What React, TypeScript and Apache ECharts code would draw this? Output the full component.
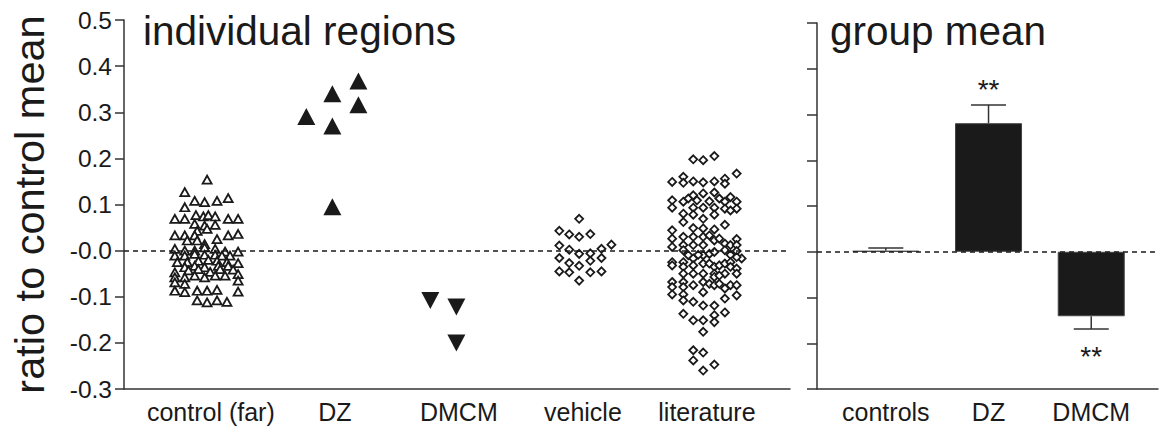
import React, { useEffect, useRef } from "react";
import * as echarts from "echarts";

const FONT = "'Liberation Sans', Arial, Helvetica, sans-serif";
const INK = "#1a1a1a";
const AXIS = "#333333";

// Left panel categories (x index 0..4)
const leftCats = ["control (far)", "DZ", "DMCM", "vehicle", "literature"];
// Right panel categories
const groupCats = ["controls", "DZ", "DMCM"];
const groupMeans = [0.002, 0.281, -0.141];
const groupSem = [0.006, 0.04, 0.028];
const groupStars = ["", "**", "**"];

// y tick labels
const yTickMin = -0.3;
const yTickMax = 0.5;
const yTickStep = 0.1;

// points: [jitter offset from category centre (category units), ratio]
const controlFar: [number, number][] = [
  [-0.03, 0.154], [-0.21, 0.127], [-0.13, 0.108], [-0.05, 0.105], [0.05, 0.108], [0.14, 0.114],
  [-0.21, 0.094], [-0.12, 0.077], [-0.06, 0.074], [-0.02, 0.077], [0.035, 0.074], [-0.29, 0.069],
  [-0.21, 0.069], [0.14, 0.069], [0.22, 0.069], [-0.13, 0.058], [-0.05, 0.054], [0.035, 0.056],
  [-0.11, 0.043], [-0.03, 0.047], [-0.29, 0.033], [-0.21, 0.033], [-0.13, 0.033], [0.14, 0.033],
  [0.22, 0.036], [-0.19, 0.022], [-0.11, 0.022], [0.05, 0.025], [-0.05, 0.014], [-0.29, 0.004],
  [-0.21, 0.0], [-0.13, 0.0], [-0.05, 0.007], [0.035, 0.004], [0.115, -0.002], [0.22, -0.002],
  [-0.29, -0.011], [-0.21, -0.011], [-0.13, -0.007], [-0.05, -0.009], [0.035, -0.009], [0.09, -0.011],
  [0.155, -0.011], [-0.27, -0.025], [-0.19, -0.025], [-0.1, -0.022], [-0.02, -0.02], [0.05, -0.022],
  [0.13, -0.025], [0.22, -0.027], [-0.21, -0.036], [-0.13, -0.033], [-0.05, -0.036], [0.06, -0.033],
  [0.14, -0.033], [-0.29, -0.047], [-0.18, -0.043], [-0.1, -0.04], [-0.005, -0.046], [0.075, -0.04],
  [0.18, -0.041], [0.22, -0.051], [-0.29, -0.058], [-0.21, -0.058], [-0.13, -0.054], [-0.05, -0.058],
  [0.035, -0.054], [0.115, -0.054], [-0.29, -0.069], [-0.21, -0.072], [0.22, -0.065], [-0.29, -0.087],
  [-0.21, -0.09], [-0.11, -0.087], [-0.03, -0.087], [0.05, -0.085], [0.22, -0.089], [-0.11, -0.108],
  [-0.03, -0.112], [0.05, -0.108], [0.13, -0.111],
];

const dzPoints: [number, number][] = [
  [0.19, 0.368], [-0.02, 0.34], [0.19, 0.316], [-0.23, 0.291], [-0.02, 0.27], [-0.02, 0.095],
];

const dmcmPoints: [number, number][] = [
  [-0.23, -0.108], [-0.02, -0.122], [-0.02, -0.2],
];

const vehiclePoints: [number, number][] = [
  [-0.03, 0.069], [-0.19, 0.043], [-0.11, 0.035], [-0.03, 0.03], [0.06, 0.036], [-0.19, 0.011],
  [-0.11, 0.002], [-0.03, -0.007], [0.06, -0.006], [0.15, 0.004], [0.23, 0.013], [-0.19, -0.016],
  [-0.11, -0.027], [-0.03, -0.033], [0.06, -0.022], [0.15, -0.016], [-0.11, -0.047], [-0.19, -0.045],
  [0.06, -0.047], [0.15, -0.045], [-0.03, -0.065],
];

const literaturePoints: [number, number][] = [
  [-0.11, 0.198], [-0.03, 0.196], [0.06, 0.205], [0.24, 0.167], [-0.28, 0.149], [-0.19, 0.16],
  [-0.19, 0.147], [-0.11, 0.15], [-0.03, 0.148], [0.06, 0.15], [0.145, 0.156], [0.145, 0.145],
  [-0.28, 0.109], [-0.28, 0.093], [-0.19, 0.106], [-0.15, 0.113], [-0.11, 0.12], [-0.03, 0.124],
  [-0.08, 0.109], [0.02, 0.107], [0.06, 0.126], [0.1, 0.113], [0.145, 0.106], [0.19, 0.116],
  [0.24, 0.106], [0.24, 0.091], [-0.11, 0.093], [-0.03, 0.093], [0.06, 0.093], [0.145, 0.091],
  [-0.19, 0.08], [-0.11, 0.078], [-0.03, 0.069], [0.06, 0.078], [0.19, 0.087], [-0.19, 0.062],
  [-0.11, 0.049], [-0.03, 0.048], [0.06, 0.046], [0.145, 0.056], [-0.28, 0.044], [-0.28, 0.026],
  [-0.28, 0.008], [-0.19, 0.03], [-0.19, 0.012], [-0.11, 0.03], [-0.11, 0.012], [-0.03, 0.03],
  [-0.03, 0.012], [0.02, 0.033], [0.06, 0.022], [0.1, 0.026], [0.145, 0.015], [0.19, 0.012],
  [0.24, 0.025], [0.24, 0.012], [0.28, -0.017], [-0.19, 0.001], [-0.15, -0.01], [-0.11, -0.017],
  [-0.03, -0.01], [-0.07, -0.009], [0.02, -0.007], [0.06, -0.003], [0.145, 0.001], [0.19, -0.009],
  [0.24, -0.001], [0.24, -0.014], [-0.28, -0.025], [-0.28, -0.032], [-0.19, -0.025], [-0.19, -0.035],
  [-0.11, -0.032], [-0.03, -0.028], [-0.03, -0.05], [-0.11, -0.05], [-0.19, -0.05], [0.02, -0.028],
  [0.06, -0.035], [0.1, -0.032], [0.145, -0.028], [0.19, -0.025], [0.19, -0.035], [0.24, -0.039],
  [0.24, -0.05], [0.145, -0.05], [0.06, -0.05], [-0.28, -0.068], [-0.28, -0.079], [-0.28, -0.095],
  [-0.19, -0.068], [-0.19, -0.079], [-0.19, -0.095], [-0.11, -0.075], [-0.03, -0.068], [-0.03, -0.09],
  [0.02, -0.072], [0.06, -0.075], [0.1, -0.072], [0.145, -0.082], [0.19, -0.075], [0.24, -0.075],
  [0.24, -0.097], [0.06, -0.057], [0.1, -0.054], [-0.19, -0.108], [-0.11, -0.111], [-0.03, -0.119],
  [0.06, -0.119], [0.145, -0.104], [-0.19, -0.137], [-0.11, -0.151], [-0.03, -0.151], [0.06, -0.14],
  [0.06, -0.155], [0.145, -0.134], [-0.03, -0.176], [-0.11, -0.216], [-0.03, -0.221], [-0.11, -0.238],
  [-0.03, -0.26], [0.06, -0.247],
];

const place = (pts: [number, number][], cat: number) => pts.map(([o, v]) => [cat + o, v]);

const yFmt = (v: number) => (Math.abs(v) < 1e-9 ? "-0.0" : v.toFixed(1));

const axisLine = { show: true, onZero: false, lineStyle: { color: AXIS, width: 1.5 } };

const zeroLine = {
  silent: true,
  symbol: ["none", "none"],
  label: { show: false },
  lineStyle: { type: [5, 4], color: INK, width: 1.5 },
  data: [{ yAxis: 0 }],
};

export default function App() {
  const ref = useRef<HTMLDivElement>(null);
  useEffect(() => {
    document.body.style.margin = "0";
    const chart = echarts.init(ref.current!, null, { renderer: "svg" });
    const openStyle = { color: "#ffffff", borderColor: INK, borderWidth: 1.8, opacity: 1 };
    const filledStyle = { color: INK, opacity: 1 };
    const titleStyle = { fontSize: 40.5, fontWeight: "normal", color: INK, fontFamily: FONT };
    const option: any = {
      animation: false,
      backgroundColor: "#ffffff",
      textStyle: { fontFamily: FONT },
      title: [
        { text: "individual regions", left: 143, top: 10, padding: 0, textStyle: titleStyle },
        { text: "group mean", left: 830, top: 10, padding: 0, textStyle: titleStyle },
      ],
      grid: [
        { left: 122, right: 369, top: 20, bottom: 45 },
        { left: 817, right: 1, top: 23, bottom: 45 },
      ],
      xAxis: [
        {
          type: "value",
          gridIndex: 0,
          min: -0.7,
          max: 4.67,
          axisLine,
          axisTick: { show: false },
          splitLine: { show: false },
          axisLabel: {
            customValues: [0, 1, 2, 3, 4],
            formatter: (v: number) => leftCats[Math.round(v)] ?? "",
            fontSize: 25,
            color: INK,
            margin: 10,
            fontFamily: FONT,
          },
        },
        {
          type: "value",
          gridIndex: 1,
          min: -0.67,
          max: 2.65,
          axisLine,
          axisTick: { show: false },
          splitLine: { show: false },
          axisLabel: {
            customValues: [0, 1, 2],
            formatter: (v: number) => groupCats[Math.round(v)] ?? "",
            fontSize: 25,
            color: INK,
            margin: 10,
            fontFamily: FONT,
          },
        },
      ],
      yAxis: [
        {
          type: "value",
          gridIndex: 0,
          min: yTickMin,
          max: yTickMax,
          interval: yTickStep,
          axisLine,
          axisTick: { show: true, length: 9, lineStyle: { color: AXIS, width: 1.5 } },
          splitLine: { show: false },
          axisLabel: { formatter: yFmt, fontSize: 24.5, color: INK, margin: 12, fontFamily: FONT },
          name: "ratio to control mean",
          nameLocation: "middle",
          nameGap: 74,
          nameTextStyle: { fontSize: 41.5, color: INK, fontFamily: FONT },
        },
        {
          type: "value",
          gridIndex: 1,
          min: yTickMin,
          max: yTickMax,
          interval: yTickStep,
          axisLine,
          axisTick: { show: true, length: 10, lineStyle: { color: AXIS, width: 1.5 } },
          splitLine: { show: false },
          axisLabel: { show: false },
        },
      ],
      series: [
        {
          type: "scatter",
          xAxisIndex: 0,
          yAxisIndex: 0,
          symbol: "triangle",
          symbolSize: [9, 8],
          itemStyle: openStyle,
          data: place(controlFar, 0),
          markLine: zeroLine,
        },
        {
          type: "scatter",
          xAxisIndex: 0,
          yAxisIndex: 0,
          symbol: "triangle",
          symbolSize: [18, 17],
          itemStyle: filledStyle,
          data: place(dzPoints, 1),
        },
        {
          type: "scatter",
          xAxisIndex: 0,
          yAxisIndex: 0,
          symbol: "triangle",
          symbolRotate: 180,
          symbolSize: [18, 17],
          itemStyle: filledStyle,
          data: place(dmcmPoints, 2),
        },
        {
          type: "scatter",
          xAxisIndex: 0,
          yAxisIndex: 0,
          symbol: "diamond",
          symbolSize: 8,
          itemStyle: openStyle,
          data: place(vehiclePoints, 3),
        },
        {
          type: "scatter",
          xAxisIndex: 0,
          yAxisIndex: 0,
          symbol: "diamond",
          symbolSize: 8,
          itemStyle: openStyle,
          data: place(literaturePoints, 4),
        },
        {
          type: "bar",
          xAxisIndex: 1,
          yAxisIndex: 1,
          barWidth: 67,
          itemStyle: { color: INK, borderColor: "#444", borderWidth: 1 },
          data: groupMeans.map((m, i) => [i, m]),
          markLine: zeroLine,
        },
        {
          type: "custom",
          xAxisIndex: 1,
          yAxisIndex: 1,
          data: groupMeans.map((m, i) => [i, m, groupSem[i]]),
          renderItem: (params: any, api: any) => {
            const x = api.value(0);
            const m = api.value(1);
            const s = api.value(2);
            const dir = m >= 0 ? 1 : -1;
            const p0 = api.coord([x, m]);
            const p1 = api.coord([x, m + dir * s]);
            const half = 17.5;
            const star = groupStars[params.dataIndex];
            const children: any[] = [
              {
                type: "line",
                shape: { x1: p0[0], y1: p0[1], x2: p1[0], y2: p1[1] },
                style: { stroke: AXIS, lineWidth: 1.5 },
              },
              {
                type: "line",
                shape: { x1: p1[0] - half, y1: p1[1], x2: p1[0] + half, y2: p1[1] },
                style: { stroke: AXIS, lineWidth: 1.5 },
              },
            ];
            if (star) {
              children.push({
                type: "text",
                x: p1[0],
                y: dir > 0 ? p1[1] - 15 : p1[1] + 27,
                style: {
                  text: star,
                  fontSize: 28,
                  fontFamily: FONT,
                  fill: INK,
                  align: "center",
                  verticalAlign: "middle",
                },
              });
            }
            return { type: "group", children };
          },
        },
      ],
    };
    chart.setOption(option);
    return () => chart.dispose();
  }, []);
  return (
    <div
      ref={ref}
      style={{ position: "fixed", left: 0, top: 0, width: 1159, height: 434, background: "#fff" }}
    />
  );
}
